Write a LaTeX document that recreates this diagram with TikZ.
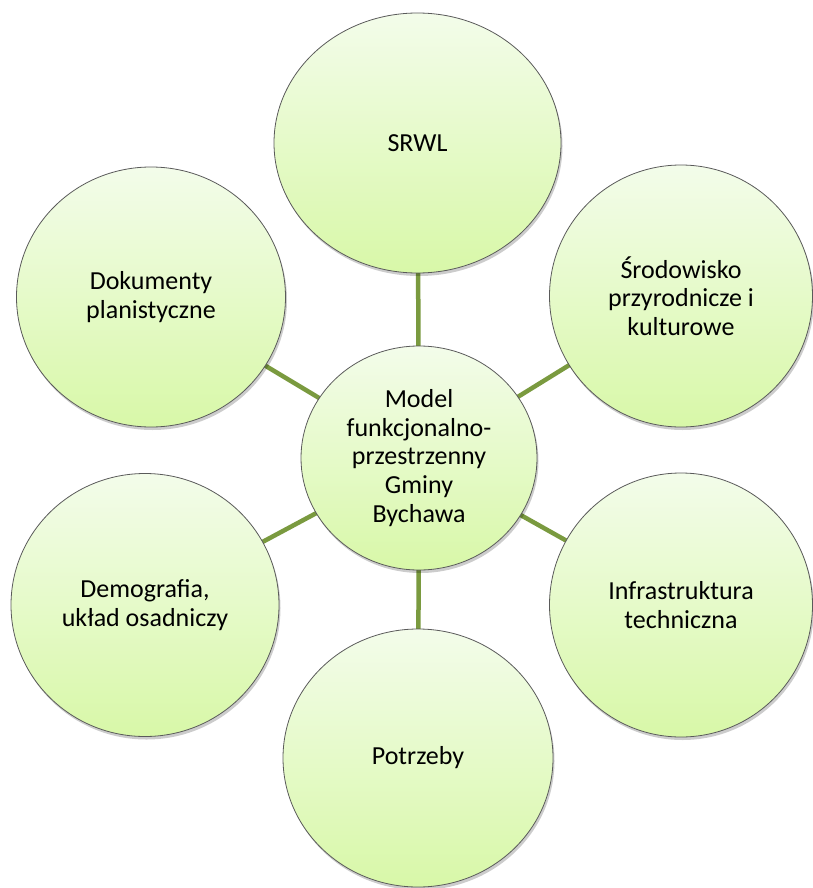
\documentclass[tikz,border=0pt]{standalone}
\usepackage{fontspec}
\setmainfont{Carlito}
\usetikzlibrary{shapes.geometric,shadows,backgrounds}
\definecolor{linkgreen}{RGB}{122,154,63}
\definecolor{fillTop}{RGB}{243,252,234}
\definecolor{fillBot}{RGB}{216,248,168}
\definecolor{rim}{RGB}{90,90,90}
\tikzset{
  bubble/.style={ellipse, draw=rim, line width=0.8pt, inner sep=0pt,
    top color=fillTop, bottom color=fillBot, align=center,
    font=\fontsize{26}{28.7}\selectfont, text=black,
    drop shadow={shadow xshift=1.5pt, shadow yshift=-3pt, opacity=0.2, fill=black}},
  link/.style={draw=linkgreen, line width=4.5pt}
}
\begin{document}
\begin{tikzpicture}[x=1pt,y=-1pt]
\useasboundingbox (0,0) rectangle (812,888);
\node[bubble, minimum width=287pt, minimum height=260pt] (t) at (417.5,143) {SRWL};
\node[bubble, minimum width=263pt, minimum height=262pt] (rt) at (681,296) {Środowisko\\przyrodnicze i\\kulturowe};
\node[bubble, minimum width=263pt, minimum height=264pt] (rb) at (681,605) {Infrastruktura\\techniczna};
\node[bubble, minimum width=270pt, minimum height=258pt] (b) at (418,758) {Potrzeby};
\node[bubble, minimum width=268pt, minimum height=263pt] (lb) at (145,605) {Demografia,\\układ osadniczy};
\node[bubble, minimum width=269pt, minimum height=260pt] (lt) at (151,297) {Dokumenty\\planistyczne};
\node[bubble, minimum width=236pt, minimum height=224pt] (c) at (419,458) {Model\\funkcjonalno-\\przestrzenny\\Gminy\\Bychawa};
\begin{scope}[on background layer]
  \foreach \n in {t,rt,rb,b,lb,lt} { \draw[link] (c.center) -- (\n.center); }
\end{scope}
\end{tikzpicture}
\end{document}
